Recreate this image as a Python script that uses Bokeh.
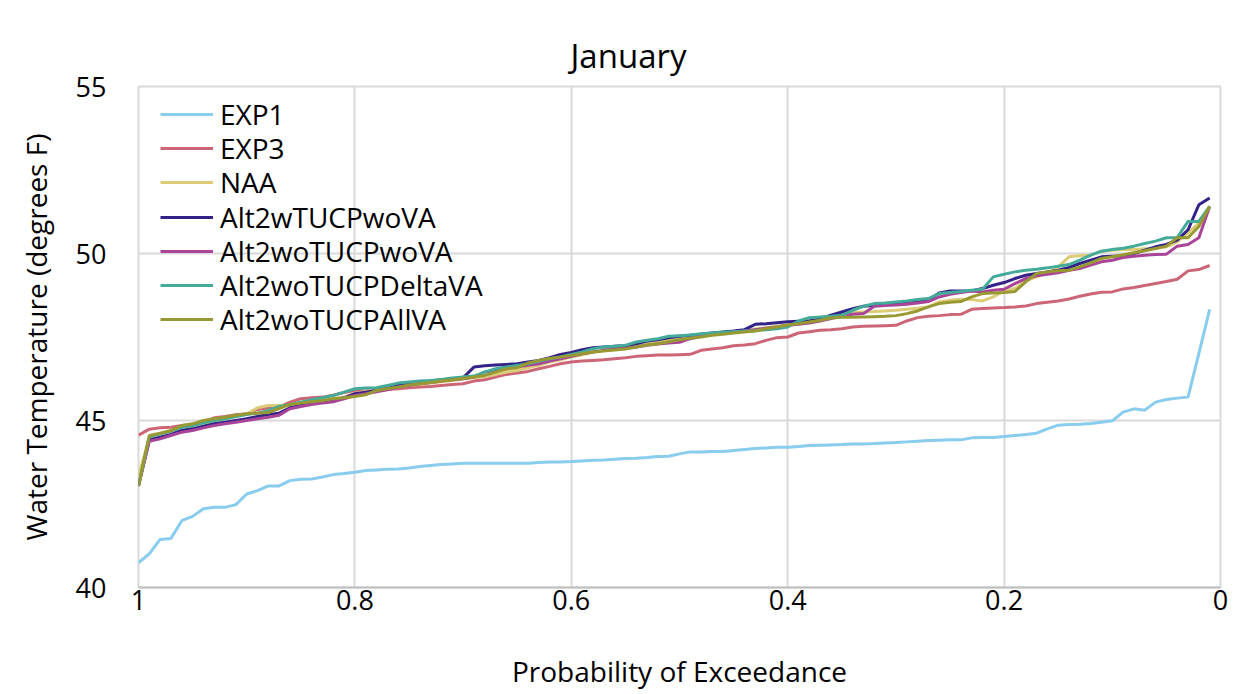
from bokeh.plotting import figure
from bokeh.models import Range1d, FixedTicker, Legend, LegendItem
from bokeh.embed import file_html
from bokeh.resources import INLINE

# Probability of exceedance, 1.00 down to 0.01
prob = [round(1 - k / 100, 2) for k in range(100)]

exp1 = [40.74, 41.01, 41.44, 41.47, 42.00, 42.13, 42.36, 42.40, 42.40, 42.48,
        42.80, 42.90, 43.04, 43.04, 43.20, 43.24, 43.25, 43.31, 43.38, 43.41,
        43.45, 43.50, 43.52, 43.54, 43.55, 43.58, 43.62, 43.65, 43.68, 43.70,
        43.72, 43.72, 43.72, 43.72, 43.72, 43.72, 43.72, 43.74, 43.76, 43.76,
        43.77, 43.79, 43.81, 43.82, 43.84, 43.86, 43.87, 43.89, 43.92, 43.93,
        44.00, 44.06, 44.06, 44.07, 44.07, 44.10, 44.13, 44.16, 44.18, 44.20,
        44.20, 44.22, 44.25, 44.26, 44.27, 44.28, 44.30, 44.30, 44.31, 44.33,
        44.34, 44.36, 44.38, 44.40, 44.41, 44.42, 44.42, 44.48, 44.49, 44.49,
        44.52, 44.55, 44.58, 44.62, 44.75, 44.86, 44.88, 44.89, 44.91, 44.95,
        44.99, 45.25, 45.35, 45.31, 45.55, 45.63, 45.67, 45.70, 47.00, 48.33]

exp3 = [44.56, 44.74, 44.78, 44.80, 44.85, 44.88, 44.95, 45.08, 45.12, 45.17,
        45.20, 45.33, 45.38, 45.40, 45.55, 45.65, 45.68, 45.70, 45.76, 45.84,
        45.90, 45.88, 45.90, 45.93, 45.95, 45.98, 46.00, 46.02, 46.05, 46.08,
        46.10, 46.18, 46.22, 46.30, 46.38, 46.42, 46.47, 46.55, 46.62, 46.70,
        46.75, 46.78, 46.80, 46.82, 46.85, 46.88, 46.92, 46.94, 46.96, 46.96,
        46.97, 46.98, 47.10, 47.14, 47.18, 47.24, 47.26, 47.30, 47.40, 47.48,
        47.50, 47.62, 47.66, 47.70, 47.72, 47.75, 47.80, 47.82, 47.83, 47.84,
        47.85, 47.98, 48.08, 48.12, 48.14, 48.17, 48.18, 48.33, 48.35, 48.37,
        48.38, 48.40, 48.43, 48.50, 48.54, 48.58, 48.64, 48.72, 48.79, 48.84,
        48.85, 48.94, 48.98, 49.04, 49.10, 49.16, 49.23, 49.48, 49.52, 49.64]

naa = [43.35, 44.50, 44.60, 44.68, 44.78, 44.83, 44.92, 44.98, 45.05, 45.12,
       45.20, 45.38, 45.45, 45.45, 45.45, 45.50, 45.55, 45.60, 45.65, 45.70,
       45.82, 45.87, 45.90, 45.95, 46.00, 46.05, 46.08, 46.12, 46.16, 46.20,
       46.24, 46.28, 46.32, 46.38, 46.45, 46.50, 46.58, 46.65, 46.75, 46.82,
       46.90, 46.97, 47.04, 47.10, 47.15, 47.20, 47.25, 47.30, 47.36, 47.42,
       47.48, 47.52, 47.56, 47.60, 47.63, 47.66, 47.70, 47.74, 47.78, 47.82,
       47.86, 47.92, 48.00, 48.06, 48.12, 48.15, 48.23, 48.25, 48.26, 48.28,
       48.30, 48.33, 48.36, 48.40, 48.55, 48.60, 48.63, 48.62, 48.58, 48.70,
       48.88, 48.95, 49.18, 49.30, 49.42, 49.60, 49.90, 49.93, 49.95, 50.07,
       50.10, 50.12, 50.12, 50.14, 50.16, 50.20, 50.35, 50.62, 50.91, 51.41]

alt2w_tucp_wova = [43.05, 44.42, 44.50, 44.58, 44.70, 44.75, 44.83, 44.90, 44.95, 45.00,
                   45.05, 45.12, 45.18, 45.22, 45.38, 45.45, 45.50, 45.55, 45.60, 45.68,
                   45.80, 45.85, 45.90, 45.96, 46.05, 46.10, 46.14, 46.18, 46.22, 46.25,
                   46.28, 46.60, 46.64, 46.66, 46.68, 46.70, 46.75, 46.80, 46.88, 46.98,
                   47.04, 47.12, 47.18, 47.20, 47.22, 47.24, 47.30, 47.38, 47.42, 47.48,
                   47.52, 47.55, 47.58, 47.62, 47.65, 47.68, 47.72, 47.88, 47.90, 47.93,
                   47.96, 47.97, 47.98, 48.05, 48.15, 48.25, 48.35, 48.42, 48.45, 48.48,
                   48.50, 48.52, 48.55, 48.60, 48.82, 48.88, 48.88, 48.88, 48.95, 49.05,
                   49.13, 49.25, 49.35, 49.40, 49.45, 49.50, 49.58, 49.70, 49.80, 49.90,
                   49.92, 49.93, 50.00, 50.10, 50.20, 50.27, 50.40, 50.71, 51.46, 51.66]

alt2wo_tucp_wova = [43.05, 44.38, 44.45, 44.55, 44.65, 44.70, 44.78, 44.85, 44.90, 44.95,
                    45.00, 45.05, 45.10, 45.16, 45.35, 45.42, 45.48, 45.52, 45.56, 45.65,
                    45.75, 45.80, 45.86, 45.92, 46.00, 46.05, 46.10, 46.14, 46.18, 46.22,
                    46.25, 46.30, 46.45, 46.50, 46.55, 46.60, 46.65, 46.70, 46.78, 46.85,
                    46.92, 47.00, 47.05, 47.10, 47.13, 47.16, 47.20, 47.25, 47.29, 47.32,
                    47.34, 47.45, 47.52, 47.58, 47.62, 47.65, 47.68, 47.72, 47.76, 47.80,
                    47.85, 47.88, 47.92, 47.98, 48.05, 48.12, 48.18, 48.20, 48.42, 48.44,
                    48.46, 48.48, 48.52, 48.56, 48.70, 48.78, 48.83, 48.88, 48.85, 48.90,
                    48.93, 49.10, 49.25, 49.33, 49.38, 49.42, 49.50, 49.55, 49.65, 49.75,
                    49.80, 49.88, 49.92, 49.95, 49.97, 49.98, 50.22, 50.27, 50.47, 51.41]

alt2wo_tucp_deltava = [43.05, 44.52, 44.60, 44.68, 44.80, 44.85, 44.93, 45.00, 45.05, 45.12,
                       45.18, 45.22, 45.30, 45.42, 45.48, 45.55, 45.62, 45.68, 45.75, 45.85,
                       45.95, 45.97, 45.98, 46.05, 46.12, 46.15, 46.18, 46.20, 46.23, 46.27,
                       46.30, 46.33, 46.45, 46.55, 46.60, 46.65, 46.70, 46.78, 46.85, 46.90,
                       46.98, 47.05, 47.15, 47.20, 47.22, 47.25, 47.35, 47.40, 47.45, 47.52,
                       47.54, 47.56, 47.60, 47.62, 47.64, 47.66, 47.68, 47.69, 47.72, 47.75,
                       47.80, 47.98, 48.08, 48.10, 48.12, 48.15, 48.30, 48.42, 48.50, 48.52,
                       48.55, 48.58, 48.62, 48.65, 48.80, 48.83, 48.86, 48.90, 48.93, 49.30,
                       49.38, 49.45, 49.50, 49.53, 49.57, 49.62, 49.67, 49.80, 49.95, 50.07,
                       50.12, 50.16, 50.22, 50.30, 50.37, 50.47, 50.48, 50.96, 50.96, 51.41]

alt2wo_tucp_allva = [43.03, 44.55, 44.62, 44.70, 44.85, 44.90, 45.00, 45.05, 45.10, 45.16,
                     45.20, 45.22, 45.24, 45.36, 45.48, 45.52, 45.56, 45.60, 45.65, 45.68,
                     45.72, 45.77, 45.90, 45.95, 46.00, 46.06, 46.10, 46.14, 46.18, 46.22,
                     46.26, 46.30, 46.35, 46.45, 46.55, 46.58, 46.72, 46.80, 46.86, 46.90,
                     46.95, 47.00, 47.05, 47.08, 47.11, 47.14, 47.20, 47.26, 47.30, 47.36,
                     47.42, 47.46, 47.50, 47.55, 47.58, 47.62, 47.65, 47.68, 47.75, 47.80,
                     47.86, 47.90, 47.95, 48.00, 48.07, 48.09, 48.09, 48.10, 48.11, 48.12,
                     48.14, 48.20, 48.28, 48.40, 48.50, 48.54, 48.56, 48.70, 48.80, 48.82,
                     48.83, 48.86, 49.15, 49.40, 49.45, 49.48, 49.50, 49.60, 49.72, 49.85,
                     49.90, 49.96, 50.02, 50.08, 50.15, 50.22, 50.47, 50.47, 50.81, 51.41]

series_names = ["EXP1", "EXP3", "NAA", "Alt2wTUCPwoVA", "Alt2woTUCPwoVA",
                "Alt2woTUCPDeltaVA", "Alt2woTUCPAllVA"]
series_values = [exp1, exp3, naa, alt2w_tucp_wova, alt2wo_tucp_wova,
                 alt2wo_tucp_deltava, alt2wo_tucp_allva]
colors = ["#88CCEE", "#CC6677", "#DDCC77", "#332288", "#AA4499", "#44AA99", "#999933"]

x_ticks = [0, 0.2, 0.4, 0.6, 0.8, 1]
x_tick_labels = {0: "0", 0.2: "0.2", 0.4: "0.4", 0.6: "0.6", 0.8: "0.8", 1: "1"}
y_ticks = [40, 45, 50, 55]

FONT = "Open Sans"
GRID = "#D9D9D9"

p = figure(width=1250, height=692, output_backend="svg", toolbar_location=None,
           x_range=Range1d(1, 0), y_range=Range1d(40, 55),
           min_border_left=138, min_border_right=30, min_border_top=86, min_border_bottom=103,
           styles={"outline": "1px solid #D9D9D9", "outline-offset": "-3px"})

p.title.text = "January"
p.title.align = "left"
p.title.text_font = FONT
p.title.text_font_size = "33px"
p.title.text_font_style = "normal"
p.title.text_color = "#000000"
p.title.offset = 432
p.title.standoff = 17

p.outline_line_color = GRID
p.outline_line_width = 2

p.xaxis.ticker = FixedTicker(ticks=x_ticks)
p.xaxis.major_label_overrides = x_tick_labels
p.yaxis.ticker = FixedTicker(ticks=y_ticks)

for ax in (p.xaxis[0], p.yaxis[0]):
    ax.major_tick_line_color = None
    ax.minor_tick_line_color = None
    ax.major_label_text_font = FONT
    ax.major_label_text_font_size = "27px"
    ax.major_label_text_color = "#000000"
    ax.axis_label_text_font = FONT
    ax.axis_label_text_font_size = "28px"
    ax.axis_label_text_font_style = "normal"
    ax.axis_label_text_color = "#000000"

p.xaxis.axis_line_color = "#BFBFBF"
p.xaxis.axis_line_width = 2
p.yaxis.axis_line_color = None
p.xaxis.axis_label = "Probability of Exceedance"
p.yaxis.axis_label = "Water Temperature (degrees F)"
p.xaxis.major_label_standoff = -4
p.xaxis.axis_label_standoff = 39
p.yaxis.major_label_standoff = 26
p.yaxis.axis_label_standoff = 18

p.xgrid.grid_line_color = GRID
p.xgrid.grid_line_width = 2
p.ygrid.grid_line_color = GRID
p.ygrid.grid_line_width = 2

# one single-entry legend per series, so the rows can sit 34 px apart
for i, (name, vals, col) in enumerate(zip(series_names, series_values, colors)):
    r = p.line(prob, vals, line_color=col, line_width=3)
    leg = Legend(items=[LegendItem(label=name, renderers=[r])],
                 location=(22, int(round(454 - 34.2 * i))),
                 background_fill_alpha=0, border_line_color=None,
                 glyph_width=53, glyph_height=20, label_height=20,
                 spacing=0, padding=0, margin=0, label_standoff=7,
                 label_text_font=FONT, label_text_font_size="28px",
                 label_text_color="#000000")
    p.add_layout(leg, "center")

open("out.html", "w").write(file_html(p, INLINE))
